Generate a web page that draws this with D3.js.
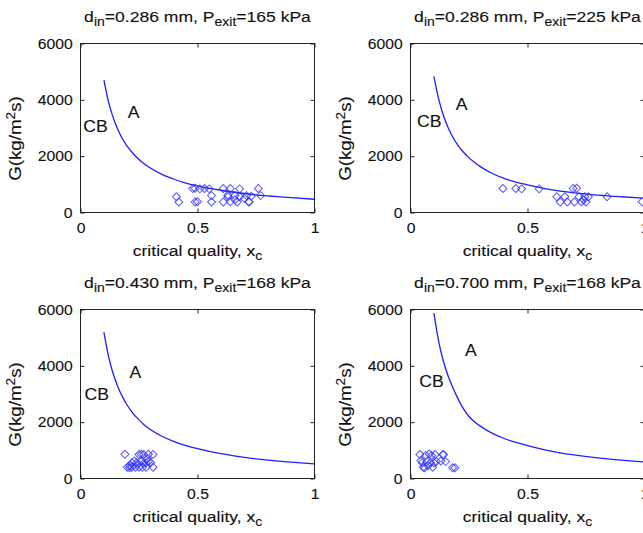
<!DOCTYPE html>
<html><head><meta charset="utf-8">
<script src="https://cdn.jsdelivr.net/npm/d3@7"></script>
<style>
body{margin:0;background:#fff}
text{font-family:"Liberation Sans",Arial,sans-serif;fill:#111;stroke:#111;stroke-width:0.12px}
</style>
</head><body>
<svg id="c" width="643" height="533"></svg>
<script>
// ---- data ----
const xTicks = [0, 0.5, 1];
const yTicks = [0, 2000, 4000, 6000];
const diameters = ["0.286", "0.286", "0.430", "0.700"];
const pressures = ["165", "225", "168", "168"];

const curveX = [0.10,0.12,0.14,0.16,0.18,0.20,0.22,0.25,0.27,0.30,0.35,0.40,0.45,0.50,0.60,0.70,0.80,0.90,1.00];
const curveG1 = [4700,3920,3360,2940,2610,2350,2140,1880,1740,1570,1345,1180,1045,945,790,675,590,525,470];
const curveG2 = [4830,4040,3460,3030,2690,2420,2200,1940,1800,1620,1385,1210,1080,980,810,700,620,560,510];
const curveG3 = [5200,4330,3710,3250,2890,2600,2360,2080,1920,1730,1490,1310,1170,1060,880,750,650,580,520];
const curveG4 = [5870,4880,4180,3660,3250,2880,2560,2200,2030,1850,1600,1420,1280,1170,975,835,730,650,585];

const points1 = [[0.41,560],[0.42,370],[0.48,850],[0.49,860],[0.49,370],[0.50,380],[0.51,840],[0.53,850],
  [0.55,840],[0.56,600],[0.56,370],[0.61,850],[0.61,370],[0.63,620],[0.63,560],[0.64,850],[0.64,380],
  [0.66,600],[0.66,450],[0.67,370],[0.68,840],[0.68,560],[0.70,500],[0.71,600],[0.72,380],[0.72,370],
  [0.73,580],[0.76,850],[0.77,600]];
const points2 = [[0.395,850],[0.45,850],[0.475,840],[0.55,840],[0.625,560],[0.64,370],[0.66,560],[0.67,370],
  [0.695,850],[0.71,860],[0.70,370],[0.72,560],[0.73,380],[0.74,450],[0.745,560],[0.76,560],[0.75,370],
  [0.84,560],[0.99,380]];
const points3 = [[0.19,860],[0.20,400],[0.21,380],[0.21,450],[0.22,400],[0.22,560],[0.23,620],[0.235,400],
  [0.24,560],[0.245,520],[0.25,400],[0.25,850],[0.26,860],[0.26,600],[0.265,400],[0.27,540],[0.27,850],
  [0.28,560],[0.28,400],[0.29,600],[0.29,860],[0.30,560],[0.31,850],[0.31,400],[0.285,700]];
const points4 = [[0.04,850],[0.045,640],[0.05,560],[0.055,400],[0.06,380],[0.065,820],[0.07,600],[0.075,450],
  [0.08,870],[0.085,560],[0.09,820],[0.095,400],[0.10,560],[0.105,850],[0.11,600],[0.13,620],[0.14,860],
  [0.14,830],[0.15,600],[0.18,380],[0.19,380]];

const labelA  = [[0.227,3550],[0.218,3860],[0.235,3760],[0.258,4555]];
const labelCB = [[0.064,3050],[0.080,3240],[0.069,3000],[0.090,3470]];

const curves = [curveG1, curveG2, curveG3, curveG4];
const pointSets = [points1, points2, points3, points4];

// ---- layout ----
const W = 234, H = 169;
const origins = [[80.5,43.5],[410.5,43.5],[80.5,309.5],[410.5,309.5]];
const blue = "#1e1eff";

const svg = d3.select("#c");

origins.forEach((o, i) => {
  const g = svg.append("g").attr("transform", `translate(${o[0]},${o[1]})`);
  const x = d3.scaleLinear().domain([0, 1]).range([0, W]);
  const y = d3.scaleLinear().domain([0, 6000]).range([H, 0]);

  // axes (ticks inward)
  const bx = g.append("g").attr("transform", `translate(0,${H})`)
    .call(d3.axisBottom(x).tickValues(xTicks).tickSize(-4).tickPadding(10).tickFormat(d3.format("")));
  const ly = g.append("g")
    .call(d3.axisLeft(y).tickValues(yTicks).tickSize(-4).tickPadding(7.5).tickFormat(d3.format("")));
  g.append("g").call(d3.axisTop(x).tickValues(xTicks).tickSize(-4).tickFormat(""));
  g.append("g").attr("transform", `translate(${W},0)`)
    .call(d3.axisRight(y).tickValues(yTicks).tickSize(-4).tickFormat(""));
  g.selectAll(".domain").remove();
  g.selectAll(".tick line").attr("stroke", "#222");
  [bx, ly].forEach(a => a.selectAll("text")
    .attr("font-size", 15).attr("fill", "#111")
    .style("font-family", '"Liberation Sans",Arial,sans-serif')
    .attr("transform", "scale(1.05,1)"));

  g.append("rect").attr("x", 0).attr("y", 0).attr("width", W).attr("height", H)
    .attr("fill", "none").attr("stroke", "#222").attr("stroke-width", 1);

  // curve
  const line = d3.line().x((d, k) => x(curveX[k])).y(d => y(d)).curve(d3.curveMonotoneX);
  g.append("path").datum(curves[i]).attr("d", line)
    .attr("fill", "none").attr("stroke", blue).attr("stroke-width", 1.3);

  // data points (diamonds)
  const sym = d3.symbol(d3.symbolSquare, 32);
  g.selectAll(".pt").data(pointSets[i]).join("path")
    .attr("class", "pt")
    .attr("d", sym)
    .attr("transform", d => `translate(${x(d[0])},${y(d[1])}) rotate(45)`)
    .attr("fill", "none").attr("stroke", "#3030ff").attr("stroke-width", 1).attr("stroke-opacity", 0.8);

  // region labels
  [[labelA[i], "A"], [labelCB[i], "CB"]].forEach(([p, t]) => {
    g.append("text").attr("text-anchor", "middle")
      .attr("transform", `translate(${x(p[0])},${y(p[1]) + 5.8}) scale(1.1,1)`)
      .attr("font-size", 16).text(t);
  });

  // title
  const tt = g.append("text").attr("text-anchor", "middle")
    .attr("transform", `translate(${W/2},-22) scale(1.17,1)`).attr("font-size", 15);
  tt.append("tspan").text("d");
  tt.append("tspan").attr("font-size", 12).attr("dy", 4).text("in");
  tt.append("tspan").attr("dy", -4).text("=" + diameters[i] + " mm, P");
  tt.append("tspan").attr("font-size", 12).attr("dy", 4).text("exit");
  tt.append("tspan").attr("dy", -4).text("=" + pressures[i] + " kPa");

  // x label
  const xl = g.append("text").attr("text-anchor", "middle")
    .attr("transform", `translate(${W/2},${H + 43}) scale(1.17,1)`).attr("font-size", 15);
  xl.append("tspan").text("critical quality, x");
  xl.append("tspan").attr("font-size", 12).attr("dy", 4).text("c");

  // y label
  const yl = g.append("text").attr("text-anchor", "middle")
    .attr("transform", `translate(-60,95) rotate(-90) scale(1.25,1.1)`).attr("font-size", 15);
  yl.append("tspan").text("G(kg/m");
  yl.append("tspan").attr("font-size", 11).attr("dy", -5).text("2");
  yl.append("tspan").attr("dy", 5).text("s)");
});
</script>
</body></html>
